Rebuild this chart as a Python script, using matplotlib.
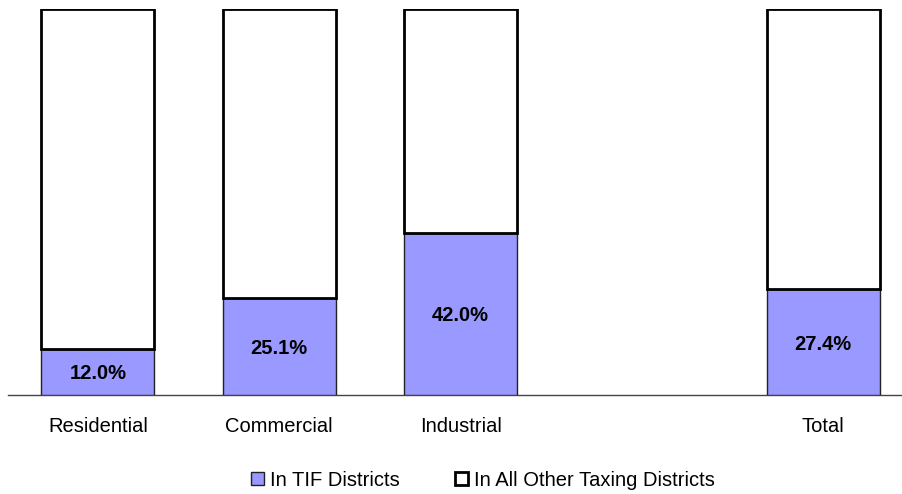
import matplotlib
matplotlib.use("Agg")
import matplotlib.pyplot as plt
from matplotlib.patches import Patch

plt.rcParams["font.family"] = ["Liberation Sans", "DejaVu Sans"]

categories = ["Residential", "Commercial", "Industrial", "Total"]
positions = [0, 1, 2, 4]
tif_share = [12.0, 25.1, 42.0, 27.4]
other_share = [100 - v for v in tif_share]

TIF_COLOR = "#9999FF"
FS = 14.5

fig = plt.figure(figsize=(9.03, 4.94), dpi=100, facecolor="white")
ax = fig.add_axes([8 / 903, 99 / 494, 895 / 903, 386 / 494])

width = 0.623
ax.bar(positions, tif_share, width, color=TIF_COLOR, edgecolor="#222222",
       linewidth=1.0, zorder=2)
ax.bar(positions, other_share, width, bottom=tif_share, color="white",
       edgecolor="black", linewidth=2.0, zorder=2)

for x, v in zip(positions, tif_share):
    ax.text(x, v / 2, f"{v:.1f}%", ha="center", va="center_baseline",
            fontsize=FS, fontweight="bold", zorder=3)

ax.set_xlim(-0.496, 4.44)
ax.set_ylim(0, 100)
ax.set_xticks(positions)
ax.set_xticklabels(categories, fontsize=FS)
ax.tick_params(axis="x", length=0, pad=16)
ax.set_yticks([])
for side in ("top", "right", "left"):
    ax.spines[side].set_visible(False)
ax.spines["bottom"].set_color("#444444")
ax.spines["bottom"].set_linewidth(1.0)
ax.spines["bottom"].set_zorder(1)

handles = [
    Patch(facecolor=TIF_COLOR, edgecolor="#222222", linewidth=1.0, label="In TIF Districts"),
    Patch(facecolor="white", edgecolor="black", linewidth=2.0, label="In All Other Taxing Districts"),
]
fig.legend(handles=handles, loc="center", bbox_to_anchor=(483 / 903, 1 - 480 / 494),
           ncol=2, frameon=False, fontsize=FS, handlelength=0.65, handleheight=0.65,
           handletextpad=0.3, columnspacing=2.7)

fig.savefig("out.png", dpi=100, facecolor="white")
